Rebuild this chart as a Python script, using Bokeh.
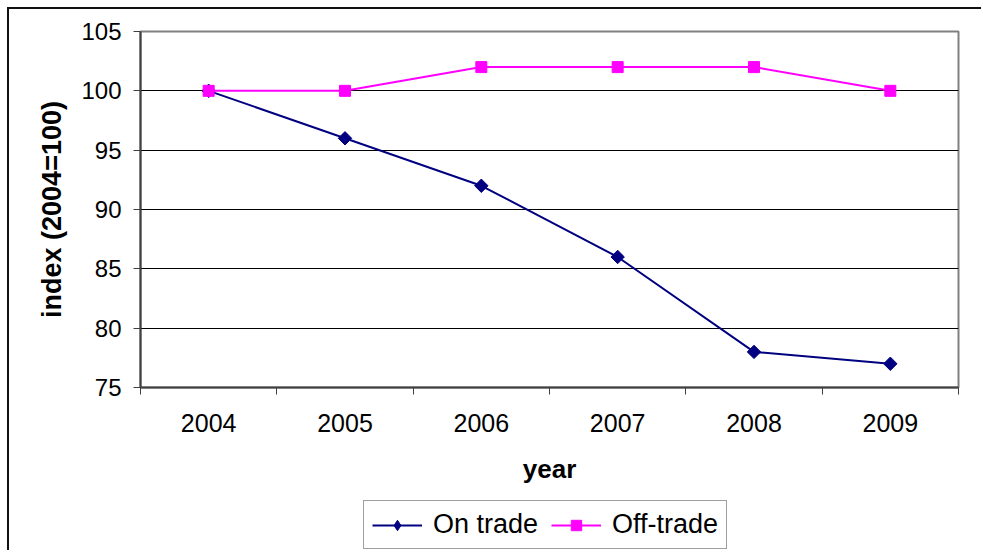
import math
from bokeh.plotting import figure
from bokeh.layouts import column
from bokeh.models import Range1d, FixedTicker, Legend, LegendItem
from bokeh.embed import file_html
from bokeh.resources import INLINE

years = ["2004", "2005", "2006", "2007", "2008", "2009"]
on_trade = [100, 96, 92, 86, 78, 77]
off_trade = [100, 100, 102, 102, 102, 100]
y_ticks = [75, 80, 85, 90, 95, 100, 105]

xs = [i + 0.5 for i in range(len(years))]
FONT = "Liberation Sans"
OFF = 9  # chart box offset inside the window
W = 983 - OFF
H_MAIN = 500 - OFF
H_LEG = 552 - 500

p = figure(width=W, height=H_MAIN, output_backend="svg", toolbar_location=None,
           x_range=Range1d(0, len(years)), y_range=Range1d(75, 105))
p.min_border_left = 140 - OFF
p.min_border_top = 31 - OFF
p.min_border_right = 25
p.min_border_bottom = 500 - 387
p.background_fill_color = "white"
p.border_fill_color = "white"
p.outline_line_color = "#808080"
p.outline_line_width = 2

# axes
xa = p.xaxis[0]
xa.ticker = FixedTicker(ticks=xs, minor_ticks=list(range(len(years) + 1)))
xa.major_label_overrides = {x: y for x, y in zip(xs, years)}
xa.major_tick_line_color = None
xa.minor_tick_in = 0
xa.minor_tick_out = 7
xa.minor_tick_line_color = "#404040"
xa.axis_line_color = "#404040"
xa.axis_line_width = 2
xa.major_label_text_font = FONT
xa.major_label_text_font_size = "25px"
xa.major_label_text_color = "black"
xa.major_label_standoff = 19
xa.axis_label = "year"
xa.axis_label_text_font = FONT
xa.axis_label_text_font_style = "bold"
xa.axis_label_text_font_size = "26px"
xa.axis_label_text_color = "black"
xa.axis_label_standoff = 19

ya = p.yaxis[0]
ya.ticker = FixedTicker(ticks=y_ticks, minor_ticks=[])
ya.major_tick_in = 0
ya.major_tick_out = 7
ya.major_tick_line_color = "#404040"
ya.axis_line_color = "#404040"
ya.axis_line_width = 2
ya.major_label_text_font = FONT
ya.major_label_text_font_size = "24px"
ya.major_label_text_color = "black"
ya.major_label_standoff = 12
ya.axis_label = "index (2004=100)"
ya.axis_label_text_font = FONT
ya.axis_label_text_font_style = "bold"
ya.axis_label_text_font_size = "27px"
ya.axis_label_text_color = "black"
ya.axis_label_standoff = 11

p.xgrid.visible = False
p.ygrid.ticker = FixedTicker(ticks=y_ticks[1:-1])
p.ygrid.grid_line_color = "black"
p.ygrid.grid_line_width = 1

navy = "#000080"
mag = "#FF00FF"
DIAMOND = dict(marker="square", angle=math.pi / 4, size=9.5, fill_color=navy, line_color=navy)
SQUARE = dict(marker="square", size=11, fill_color=mag, line_color=mag)
p.line(xs, on_trade, line_color=navy, line_width=2)
p.scatter(xs, on_trade, **DIAMOND)
p.line(xs, off_trade, line_color=mag, line_width=2)
p.scatter(xs, off_trade, **SQUARE)

# legend strip below the chart (frame is aligned with the main chart's frame)
q = figure(width=W, height=H_LEG, output_backend="svg", toolbar_location=None,
           x_axis_location=None, y_axis_location=None,
           x_range=Range1d(0, 1), y_range=Range1d(0, 1))
q.min_border_top = 0
q.min_border_bottom = 0
q.outline_line_color = None
q.grid.visible = False
q.background_fill_color = "white"
q.border_fill_color = "white"
# proxies lying outside the visible range, only used for the legend swatches
px, py = [-5, -4], [-5, -4]
ql1 = q.line(px, py, line_color=navy, line_width=2)
qs1 = q.scatter(px, py, marker="diamond", size=15, fill_color=navy, line_color=navy)
ql2 = q.line(px, py, line_color=mag, line_width=2)
qs2 = q.scatter(px, py, **SQUARE)

legend = Legend(items=[LegendItem(label="On trade", renderers=[ql1, qs1]),
                       LegendItem(label="Off-trade", renderers=[ql2, qs2])],
                orientation="horizontal", location=(363 - 140, 3))
legend.label_text_font = FONT
legend.label_text_font_size = "27px"
legend.label_text_color = "black"
legend.glyph_width = 50
legend.glyph_height = 26
legend.label_standoff = 11
legend.spacing = 13
legend.padding = 8
legend.margin = 0
legend.border_line_color = "#404040"
legend.border_line_width = 1.5
legend.background_fill_color = "white"
q.add_layout(legend, "center")

layout = column(p, q, spacing=0,
                styles={"transform": "translate(%dpx, %dpx)" % (OFF, OFF),
                        "box-shadow": "-2px -2px 0px 0px #111111"})

open("out.html", "w").write(file_html(layout, INLINE))
